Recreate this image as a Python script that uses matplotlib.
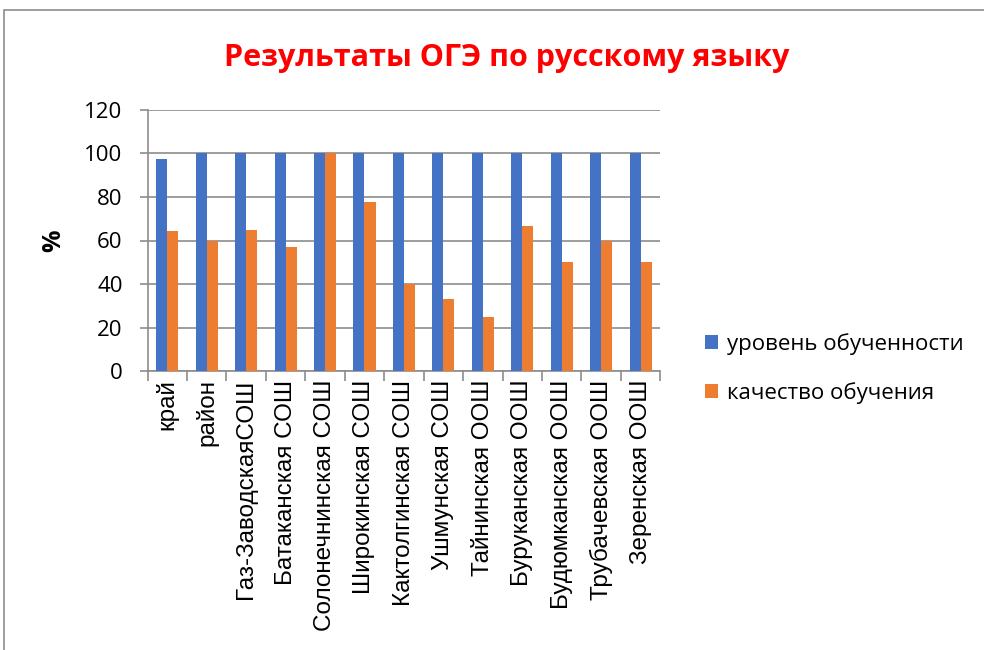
import numpy as np
import matplotlib.pyplot as plt
from matplotlib.patches import Rectangle

categories = ['край', 'район', 'Газ-ЗаводскаяСОШ', 'Батаканская СОШ', 'Солонечнинская СОШ',
              'Широкинская СОШ', 'Кактолгинская СОШ', 'Ушмунская СОШ', 'Тайнинская ООШ',
              'Буруканская ООШ', 'Будюмканская ООШ', 'Трубачевская ООШ', 'Зеренская ООШ']
uroven = [97.2, 100, 100, 100, 100, 100, 100, 100, 100, 100, 100, 100, 100]
kachestvo = [64.5, 60, 65, 57.1, 100, 77.8, 40, 33.3, 25, 66.7, 50, 60, 50]

plt.rcParams['font.family'] = ['Open Sans', 'DejaVu Sans']

fig = plt.figure(figsize=(9.84, 6.5), dpi=100)
ax = fig.add_axes([0.150, 0.429, 0.521, 0.402])

# рамка диаграммы
fig.patches.append(Rectangle((0.004, -0.01), 1.1, 0.995, transform=fig.transFigure,
                             fill=False, edgecolor='#8c8c8c', linewidth=1.2))

x = np.arange(len(categories))
w = 0.28
ax.bar(x - w / 2, uroven, w, color='#4472C4', label='уровень обученности', zorder=3)
ax.bar(x + w / 2, kachestvo, w, color='#ED7D31', label='качество обучения', zorder=3)

ax.set_xlim(-0.5, len(categories) - 0.5)
ax.set_ylim(0, 120)
ax.set_yticks(range(0, 121, 20))
ax.yaxis.grid(True, color='#8c8c8c', linewidth=1.2, zorder=0)
for s in ['top', 'right']:
    ax.spines[s].set_visible(False)
for s in ['left', 'bottom']:
    ax.spines[s].set_color('#8c8c8c')
    ax.spines[s].set_linewidth(1.2)

ax.set_xticks(x)
ax.set_xticklabels(categories, rotation=90, fontsize=17.5, family=['Liberation Sans', 'DejaVu Sans'])
ax.tick_params(axis='x', length=0, pad=6)
ax.set_xticks(np.arange(-0.5, len(categories)), minor=True)
ax.tick_params(axis='x', which='minor', length=7, color='#8c8c8c', width=1.2)
ax.tick_params(axis='y', labelsize=16, length=6, color='#8c8c8c', width=1.2, pad=12)

ax.set_ylabel('%', fontsize=18, fontweight='bold')
ax.yaxis.set_label_coords(-0.158, 0.5)

fig.suptitle('Результаты ОГЭ по русскому языку', x=0.515, y=0.934, color='#FF0000',
             fontsize=22, fontweight='bold')

ax.legend(loc='center left', bbox_to_anchor=(1.048, 0.01), frameon=False, fontsize=16,
          handlelength=0.6, handleheight=0.6, labelspacing=1.2, handletextpad=0.4)

fig.savefig('out.png', dpi=100)
